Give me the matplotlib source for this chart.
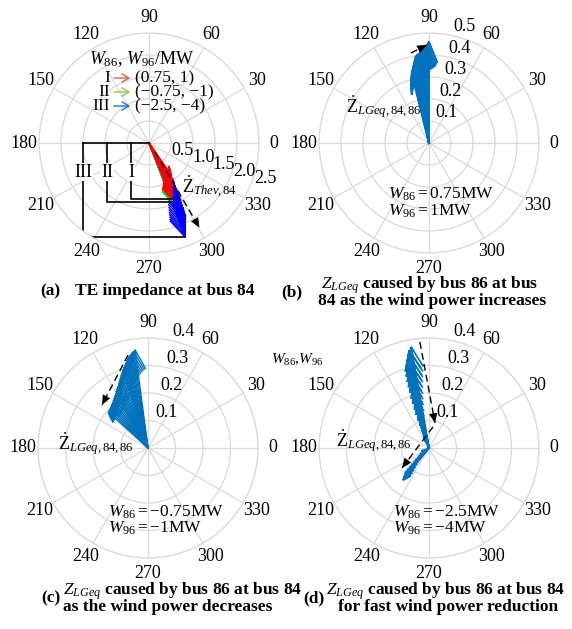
import numpy as np
import matplotlib
matplotlib.use('Agg')
import matplotlib.pyplot as plt
from matplotlib.patches import FancyArrowPatch

plt.rcParams['font.family'] = ['Liberation Serif', 'DejaVu Serif']
plt.rcParams['mathtext.fontset'] = 'custom'
plt.rcParams['mathtext.rm'] = 'Liberation Serif'
plt.rcParams['mathtext.it'] = 'Liberation Serif:italic'
plt.rcParams['mathtext.bf'] = 'Liberation Serif:bold'

W, H = 572, 629
FS = 13

# wind power cases (MW)
W86 = [0.75, -0.75, -2.5]
W96 = [1, -1, -4]
case_names = ['I', 'II', 'III']

# (a) Thevenin impedance at bus 84 : magnitude, angle (deg)
r_I = [0.85, 0.89, 0.93, 0.97, 1.01, 1.05, 1.09, 1.12, 1.16, 1.19, 1.22, 1.25, 1.28, 1.31, 1.33, 1.35, 1.37]
th_I = [-55.0, -56.0, -57.0, -58.0, -59.0, -60.0, -61.0, -61.9, -62.8, -63.6, -64.4, -65.1, -65.8, -66.4, -66.9, -67.3, -67.7]
r_II = [0.88, 0.93, 0.98, 1.02, 1.07, 1.11, 1.15, 1.19, 1.23, 1.27, 1.30, 1.33, 1.36, 1.39, 1.42, 1.44]
th_II = [-56.5, -57.6, -58.7, -59.7, -60.7, -61.7, -62.6, -63.5, -64.4, -65.2, -66.0, -66.7, -67.3, -67.9, -68.4, -68.8]
r_III = [1.10, 1.20, 1.30, 1.40, 1.49, 1.58, 1.67, 1.75, 1.83, 1.91, 1.98, 2.05, 2.12, 2.18, 2.24, 2.29]
th_III = [-61.0, -62.0, -62.9, -63.7, -64.4, -65.0, -65.6, -66.1, -66.6, -67.1, -67.5, -67.9, -68.2, -68.5, -68.8, -69.0]

# (b) Z_LGeq, wind power increases
r_b = [0.29, 0.30, 0.31, 0.32, 0.33, 0.34, 0.35, 0.36, 0.37, 0.38, 0.39,
       0.40, 0.405, 0.41, 0.415, 0.42, 0.425, 0.43, 0.435, 0.44, 0.45, 0.46]
th_b = [104.0, 103.5, 103.0, 102.5, 102.0, 101.5, 101.0, 100.5, 100.0, 99.5, 99.0,
        98.5, 97.5, 96.5, 95.5, 94.5, 93.5, 92.5, 91.8, 91.2, 90.6, 90.0]

# (c) Z_LGeq, wind power decreases
r_c = [0.360, 0.356, 0.351, 0.346, 0.340, 0.334, 0.327, 0.320, 0.313, 0.306,
       0.299, 0.292, 0.283, 0.274, 0.265, 0.257, 0.250, 0.243, 0.237, 0.231,
       0.226, 0.220, 0.215, 0.210, 0.206, 0.202, 0.199, 0.197, 0.195]
th_c = [97.5, 98.5, 99.5, 100.5, 101.5, 102.5, 103.5, 104.5, 105.5, 106.5,
        107.5, 108.5, 110.0, 111.5, 113.0, 114.5, 116.0, 117.5, 119.0, 120.5,
        122.0, 124.0, 126.0, 128.0, 130.0, 132.0, 134.0, 136.0, 138.0]

# (d) Z_LGeq, fast wind power reduction
r_d = [0.373, 0.362, 0.350, 0.338, 0.326, 0.314, 0.302, 0.290, 0.277, 0.264, 0.251, 0.238,
       0.225, 0.212, 0.199, 0.186, 0.173, 0.160, 0.147, 0.134, 0.121, 0.108, 0.095, 0.082,
       0.069, 0.056, 0.044, 0.033,
       0.030, 0.045, 0.060, 0.075, 0.090, 0.105, 0.120, 0.135, 0.150]
th_d = [100.0, 101.5, 100.5, 102.0, 101.0, 102.5, 101.5, 103.0, 102.0, 103.5, 102.5, 104.0,
        103.0, 104.5, 103.5, 105.0, 104.0, 105.5, 104.5, 106.0, 105.0, 107.0, 106.0, 108.0,
        108.0, 110.0, 113.0, 118.0,
        205.0, 220.0, 224.0, 226.0, 228.0, 229.0, 230.0, 230.5, 231.0]


def fx(x):
    return x / W


def fy(y):
    return 1 - y / H


def mw(v):
    return ('%g' % v).replace('-', '\u2212')


def polar_ax(fig, cx, cy, rmax, rticks, rlab_ang, ha, va, off, R=110):
    ax = fig.add_axes([fx(cx - R), fy(cy + R), 2 * R / W, 2 * R / H], projection='polar')
    ax.set_ylim(0, rmax)
    ax.set_yticks(rticks)
    ax.set_yticklabels([])
    angs = list(range(0, 360, 30))
    ax.set_thetagrids(angs, [str(a) for a in angs])
    ax.tick_params(axis='x', labelsize=FS, pad=0.5)
    ax.grid(color='#d9d9d9', lw=0.9)
    ax.spines['polar'].set_color('#d9d9d9')
    for rt in rticks:
        ax.annotate('%.1f' % rt, xy=(np.deg2rad(rlab_ang), rt), xytext=off,
                    textcoords='offset points', ha=ha, va=va, fontsize=FS)
    return ax


def compass(ax, r, th, color, lw=1.0):
    # MATLAB style compass arrows: shaft + two barbs
    db = np.arctan2(0.08, 0.8)
    kb = np.hypot(0.8, 0.08)
    for ri, ti in zip(r, np.deg2rad(th)):
        ax.plot([0, ti, ti + db, ti, ti - db], [0, ri, ri * kb, ri, ri * kb],
                color=color, lw=lw, solid_joinstyle='miter')


def trend(ax, r0, t0, r1, t1):
    ax.plot(np.deg2rad([t0, t1]), [r0, r1], color='k', ls=(0, (5, 3)), lw=1.0)
    ax.annotate('', xy=(np.deg2rad(t1), r1), xytext=(np.deg2rad(t0), r0),
                arrowprops=dict(arrowstyle='-|>,head_length=0.7,head_width=0.3',
                                color='k', lw=0, shrinkA=0, shrinkB=0))


def cart_plot(ax, xs, ys, **kw):
    xs, ys = np.asarray(xs), np.asarray(ys)
    ax.plot(np.arctan2(ys, xs), np.hypot(xs, ys), **kw)


fig = plt.figure(figsize=(W / 100, H / 100), dpi=100)
FW = 12.5

# ---------------- (a) ----------------
axa = polar_ax(fig, 149, 143, 2.5, [0.5, 1.0, 1.5, 2.0, 2.5], -19, 'left', 'center', (1, 0))
compass(axa, r_III, th_III, '#0000ff')
compass(axa, r_II, th_II, '#00e000')
compass(axa, r_I, th_I, '#ff0000')
trend(axa, 0.25, -56, 2.24, -59.2)
fig.text(fx(182), fy(187), r'$\dot{\mathrm{Z}}_{Thev,84}$', ha='left', va='center', fontsize=FS)

# brackets marking the three cases
bar_x = [-0.41, -0.955, -1.5]
for name, rr, tt, xb in zip(case_names, [r_I, r_II, r_III], [th_I, th_II, th_III], bar_x):
    xt = rr[-1] * np.cos(np.deg2rad(tt[-1]))
    yt = rr[-1] * np.sin(np.deg2rad(tt[-1]))
    cart_plot(axa, [xb, xb, xt], [0, yt, yt], color='k', lw=1.2)
    axa.text(np.arctan2(-0.66, xb), np.hypot(xb, 0.66), name, ha='center', va='center',
             fontsize=FS, bbox=dict(fc='white', ec='none', pad=0.6))
cart_plot(axa, [bar_x[-1], 0], [0, 0], color='k', lw=1.2)

# legend
fig.text(fx(142), fy(59), r'$W_{86}$, $W_{96}$/MW', ha='center', va='center', fontsize=FS)
leg_cols = ['#e0604c', '#8cc850', '#1e78d0']
for y, name, col, a, b in zip([78, 92, 106], case_names, leg_cols, W86, W96):
    fig.text(fx(110), fy(y), name, ha='right', va='center', fontsize=FW)
    fig.add_artist(FancyArrowPatch((fx(111), fy(y)), (fx(133), fy(y)), transform=fig.transFigure,
                                   arrowstyle='->,head_length=5,head_width=3', color=col, lw=1.0))
    fig.text(fx(135), fy(y), '(%s, %s)' % (mw(a), mw(b)), ha='left', va='center', fontsize=FW)

# ---------------- (b) ----------------
blue = '#0072bd'
axb = polar_ax(fig, 429, 143, 0.5, [0.1, 0.2, 0.3, 0.4, 0.5], 78, 'left', 'bottom', (1, 0))
compass(axb, r_b, th_b, blue, lw=1.4)
trend(axb, 0.417, 101.3, 0.446, 91.2)
fig.text(fx(346), fy(107), r'$\dot{\mathrm{Z}}_{LGeq,84,86}$', ha='left', va='center', fontsize=FS)
fig.text(fx(388), fy(194), r'$W_{86}=%s$MW' % mw(W86[0]), ha='left', va='center', fontsize=FW)
fig.text(fx(388), fy(211), r'$W_{96}=%s$MW' % mw(W96[0]), ha='left', va='center', fontsize=FW)

# ---------------- (c) ----------------
axc = polar_ax(fig, 148, 448, 0.4, [0.1, 0.2, 0.3, 0.4], 78, 'left', 'bottom', (1, 0))
compass(axc, r_c, th_c, blue, lw=1.0)
trend(axc, 0.346, 102.1, 0.229, 136.9)
fig.text(fx(58), fy(444), r'$\dot{\mathrm{Z}}_{LGeq,84,86}$', ha='left', va='center', fontsize=FS)
fig.text(fx(108), fy(512), r'$W_{86}=%s$MW' % mw(W86[1]), ha='left', va='center', fontsize=FW)
fig.text(fx(108), fy(528), r'$W_{96}=%s$MW' % mw(W96[1]), ha='left', va='center', fontsize=FW)

# ---------------- (d) ----------------
axd = polar_ax(fig, 429, 448, 0.4, [0.1, 0.2, 0.3, 0.4], 78, 'left', 'bottom', (1, 0))
compass(axd, r_d, th_d, blue, lw=1.2)
trend(axd, 0.387, 94.9, 0.0935, 76.5)
trend(axd, 0.078, 79.2, 0.122, 216.5)
fig.text(fx(336), fy(441), r'$\dot{\mathrm{Z}}_{LGeq,84,86}$', ha='left', va='center', fontsize=FS)
fig.text(fx(393), fy(512), r'$W_{86}=%s$MW' % mw(W86[2]), ha='left', va='center', fontsize=FW)
fig.text(fx(393), fy(528), r'$W_{96}=%s$MW' % mw(W96[2]), ha='left', va='center', fontsize=FW)
fig.text(fx(297), fy(360), r'$W_{86}$,$W_{96}$', ha='center', va='center', fontsize=11)

# ---------------- captions ----------------
CS = 12.5
cap = dict(va='center', fontsize=CS, fontweight='bold')
fig.text(fx(60), fy(291), '(a)', ha='right', **cap)
fig.text(fx(75), fy(291), 'TE impedance at bus 84', ha='left', **cap)
fig.text(fx(302), fy(292), '(b)', ha='right', **cap)
fig.text(fx(321), fy(285), r'$Z_{LGeq}$ caused by bus 86 at bus', ha='left', **cap)
fig.text(fx(432), fy(301), '84 as the wind power increases', ha='center', **cap)
fig.text(fx(60), fy(598), '(c)', ha='right', **cap)
fig.text(fx(63), fy(591), r'$Z_{LGeq}$ caused by bus 86 at bus 84', ha='left', **cap)
fig.text(fx(168), fy(607), 'as the wind power decreases', ha='center', **cap)
fig.text(fx(324), fy(598), '(d)', ha='right', **cap)
fig.text(fx(326), fy(591), r'$Z_{LGeq}$ caused by bus 86 at bus 84', ha='left', **cap)
fig.text(fx(448), fy(607), 'for fast wind power reduction', ha='center', **cap)

fig.savefig('out.png', dpi=100)
